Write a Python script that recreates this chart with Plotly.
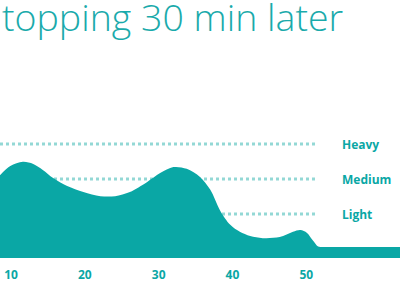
import plotly.graph_objects as go

# Minutes
minutes = [8.5, 9.9, 11.6, 13.0, 14.3, 15.7, 17.6, 19.8, 22.1, 24.1, 26.1, 28.4,
           30.2, 32.0, 33.8, 35.6, 37.0, 38.3, 39.7, 41.0, 42.4, 44.1, 46.4, 48.2,
           49.2, 50.1, 50.9, 51.6, 52.3, 55.0, 59.0, 62.7]
# Rain intensity (1 = Light, 2 = Medium, 3 = Heavy)
intensity = [2.11, 2.37, 2.49, 2.43, 2.26, 2.03, 1.80, 1.63, 1.51, 1.51, 1.63, 1.91,
             2.17, 2.34, 2.29, 2.06, 1.69, 1.11, 0.69, 0.49, 0.37, 0.31, 0.34, 0.49,
             0.54, 0.46, 0.24, 0.07, 0.06, 0.06, 0.06, 0.06]

level_names = ["Light", "Medium", "Heavy"]
level_values = [1, 2, 3]

tick_vals = [10, 20, 30, 40, 50]
tick_text = ["10", "20", "30", "40", "50"]

title_text = "topping 30 min later"

X_RANGE = [8.5, 62.7]
Y_RANGE = [-0.257, 5.4]
LINE_END = 51.2
LABEL_X = 54.6

TEAL = "#0aa7a5"
DOT = "#93d8d5"

fig = go.Figure()

for v in level_values:
    fig.add_trace(go.Scatter(
        x=[X_RANGE[0], LINE_END], y=[v, v], mode="lines",
        line=dict(color=DOT, width=3, dash="dot"),
        hoverinfo="skip", showlegend=False))

fig.add_trace(go.Scatter(
    x=minutes, y=[Y_RANGE[0]] * len(minutes), mode="lines",
    line=dict(width=0, color=TEAL), hoverinfo="skip", showlegend=False))
fig.add_trace(go.Scatter(
    x=minutes, y=intensity, mode="lines", fill="tonexty",
    fillcolor=TEAL, line=dict(color=TEAL, width=0, shape="spline", smoothing=0.9),
    showlegend=False))

for name, v in zip(level_names, level_values):
    fig.add_annotation(x=LABEL_X, y=v, text=name, showarrow=False,
                       xanchor="left", yanchor="middle",
                       font=dict(family="Open Sans", size=12, color=TEAL, weight="bold"))

fig.update_layout(title=dict(
    text=title_text, x=0, xref="container", xanchor="left",
    y=1, yref="container", yanchor="top", pad=dict(t=5, l=2, r=0, b=0),
    font=dict(family="Open Sans", size=37.5, color="#1aaaab", weight=300)))

fig.update_xaxes(range=X_RANGE, tickvals=tick_vals, ticktext=tick_text,
                 showgrid=False, zeroline=False, showline=False,
                 ticks="outside", ticklen=6, tickcolor="rgba(0,0,0,0)",
                 tickfont=dict(family="Open Sans", size=12, color=TEAL, weight="bold"))
fig.update_yaxes(range=Y_RANGE, visible=False, showgrid=False, zeroline=False)

fig.update_layout(width=400, height=300, margin=dict(l=0, r=0, t=60, b=42),
                  plot_bgcolor="white", paper_bgcolor="white")

fig.write_html("out.html")
